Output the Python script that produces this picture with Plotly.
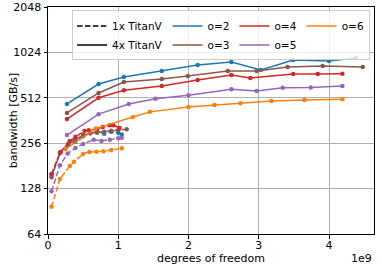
import plotly.graph_objects as go

labels = ["o=2", "o=3", "o=4", "o=5", "o=6"]
colors = ["#1f77b4", "#8c564b", "#d62728", "#9467bd", "#ff7f0e"]

# 4x TitanV (solid), x in units of 1e9 dof, y in GB/s
x4_o2 = [0.27, 0.72, 1.08, 1.62, 2.13, 2.61, 3.03, 3.49, 4.0, 4.38]
y4_o2 = [466, 632, 703, 770, 845, 885, 782, 912, 898, 940]
x4_o3 = [0.27, 0.72, 1.08, 1.62, 1.99, 2.56, 2.97, 3.41, 3.91, 4.48]
y4_o3 = [406, 551, 651, 682, 714, 770, 770, 820, 832, 820]
x4_o4 = [0.27, 0.72, 1.08, 1.62, 2.13, 2.61, 2.88, 3.49, 3.84, 4.19]
y4_o4 = [370, 512, 575, 613, 673, 724, 693, 736, 736, 740]
x4_o5 = [0.27, 0.72, 1.15, 1.53, 2.0, 2.61, 2.97, 3.34, 3.74, 4.19]
y4_o5 = [290, 399, 466, 505, 533, 584, 568, 596, 600, 613]
x4_o6 = [0.25, 0.68, 1.21, 1.45, 2.0, 2.37, 2.74, 3.18, 3.65, 4.19]
y4_o6 = [234, 320, 382, 413, 445, 458, 471, 488, 495, 501]

# 1x TitanV (dashed)
x1_o2 = [0.05, 0.17, 0.29, 0.39, 0.5, 0.6, 0.7, 0.8, 0.9, 1.0, 1.05]
y1_o2 = [158, 222, 250, 262, 285, 298, 305, 296, 305, 300, 292]
x1_o3 = [0.05, 0.17, 0.29, 0.39, 0.5, 0.6, 0.7, 0.8, 0.9, 1.0, 1.12]
y1_o3 = [152, 220, 255, 270, 290, 298, 300, 305, 310, 312, 317]
x1_o4 = [0.05, 0.18, 0.31, 0.39, 0.52, 0.58, 0.7, 0.78, 0.88, 0.93, 1.02]
y1_o4 = [160, 224, 265, 282, 309, 312, 318, 328, 337, 337, 323]
x1_o5 = [0.05, 0.17, 0.28, 0.39, 0.5, 0.65, 0.76, 0.88, 1.0, 1.05]
y1_o5 = [123, 183, 219, 238, 253, 270, 265, 270, 276, 278]
x1_o6 = [0.05, 0.17, 0.31, 0.37, 0.5, 0.59, 0.69, 0.79, 0.9, 1.05]
y1_o6 = [97, 148, 181, 193, 217, 224, 225, 226, 231, 237]

y_ticks = [64, 128, 256, 512, 1024, 2048]
x_ticks = [0, 1, 2, 3, 4]

solid = [(x4_o2, y4_o2), (x4_o3, y4_o3), (x4_o4, y4_o4), (x4_o5, y4_o5), (x4_o6, y4_o6)]
dashed = [(x1_o2, y1_o2), (x1_o3, y1_o3), (x1_o4, y1_o4), (x1_o5, y1_o5), (x1_o6, y1_o6)]

DASH = "5.5px,2.4px"
fig = go.Figure()
SC = 1e9
for (xs, ys), c in zip(dashed, colors):
    fig.add_trace(go.Scatter(x=[v * SC for v in xs], y=ys, mode="lines+markers",
                             line=dict(color=c, width=1.5, dash=DASH),
                             marker=dict(color=c, size=4.5), showlegend=False))
for (xs, ys), c in zip(solid, colors):
    fig.add_trace(go.Scatter(x=[v * SC for v in xs], y=ys, mode="lines+markers",
                             line=dict(color=c, width=1.5),
                             marker=dict(color=c, size=4.5), showlegend=False))

# legend entries
fig.add_trace(go.Scatter(x=[None], y=[None], mode="lines", name="1x TitanV",
                         line=dict(color="black", width=1.5, dash=DASH), legendgroup="g1"))
fig.add_trace(go.Scatter(x=[None], y=[None], mode="lines", name="4x TitanV",
                         line=dict(color="black", width=1.5), legendgroup="g1"))
groups = ["g2", "g2", "g3", "g3", "g4"]
for lab, c, g in zip(labels, colors, groups):
    fig.add_trace(go.Scatter(x=[None], y=[None], mode="lines", name=lab,
                             line=dict(color=c, width=1.5), legendgroup=g))

font = dict(family="DejaVu Sans", size=11, color="black")
fig.update_layout(
    width=381, height=267,
    margin=dict(l=48, r=7, t=7, b=33, autoexpand=False),
    paper_bgcolor="white", plot_bgcolor="white",
    font=font,
    showlegend=True,
    legend=dict(orientation="h", traceorder="grouped", x=0.988, xanchor="right",
                y=0.985, yanchor="top", bgcolor="rgba(255,255,255,0.8)",
                bordercolor="#cccccc", borderwidth=1, tracegroupgap=4,
                font=dict(family="DejaVu Sans", size=10.5, color="black")),
    xaxis=dict(range=[0, 4.64e9], tickvals=[v * SC for v in x_ticks],
               ticktext=[str(v) for v in x_ticks], showgrid=True, gridcolor="#b0b0b0",
               gridwidth=0.8, zeroline=False, showline=True, linecolor="black",
               linewidth=1, mirror=True, ticks="outside", ticklen=3.5, tickcolor="black",
               automargin=False, tickfont=font, ticklabelstandoff=-3),
    yaxis=dict(type="log", range=[6 * 0.30103, 11 * 0.30103], tickvals=y_ticks,
               ticktext=[str(v) for v in y_ticks], showgrid=True, gridcolor="#b0b0b0",
               gridwidth=0.8, zeroline=False, showline=True, linecolor="black",
               linewidth=1, mirror=True, ticks="outside", ticklen=3.5, tickcolor="black",
               automargin=False, tickfont=font),
)
fig.add_annotation(text="degrees of freedom", xref="paper", yref="paper", x=0.5, y=-0.07,
                   xanchor="center", yanchor="top", showarrow=False, font=font)
fig.add_annotation(text="bandwidth [GB/s]", xref="paper", yref="paper", x=-0.105, y=0.5,
                   xanchor="center", yanchor="middle", textangle=-90, showarrow=False, font=font)
fig.add_annotation(text="1e9", xref="paper", yref="paper", x=1.0, y=-0.07,
                   xanchor="right", yanchor="top", showarrow=False, font=font)
fig.write_html("out.html", config={"displayModeBar": False},
               post_script="document.body.style.margin='0';")
